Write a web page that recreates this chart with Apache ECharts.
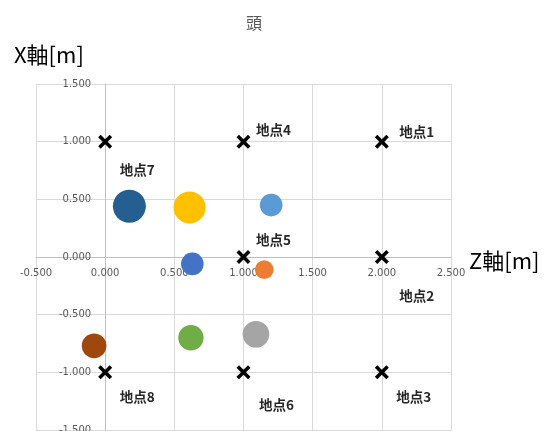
<!DOCTYPE html>
<html>
<head>
<meta charset="utf-8">
<script src="https://cdn.jsdelivr.net/npm/echarts@6/dist/echarts.min.js"></script>
<style>
  html, body { margin: 0; padding: 0; background: #fff; }
  #chart { width: 549px; height: 431px; }
</style>
</head>
<body>
<div id="chart"></div>
<script>
// Measurement stations (Z, X in metres)
const stationNames = ['地点1', '地点2', '地点3', '地点4', '地点5', '地点6', '地点7', '地点8'];
const stationZ = [2, 2, 2, 1, 1, 1, 0, 0];
const stationX = [1, 0, -1, 1, 0, -1, 1, -1];

// Bubble series (Z, X in metres, relative bubble size)
const bubbleZ = [0.175, 0.61, 1.2, 0.63, 1.15, -0.08, 0.62, 1.09];
const bubbleX = [0.44, 0.43, 0.45, -0.06, -0.11, -0.77, -0.70, -0.67];
const bubbleSize = [1.0, 0.94, 0.47, 0.47, 0.32, 0.56, 0.59, 0.65];
const bubbleColors = ['#255e91', '#ffc000', '#5b9bd5', '#4472c4', '#ed7d31', '#9e480e', '#70ad47', '#a5a5a5'];

// Axis ranges
const zTicks = { min: -0.5, max: 2.5, interval: 0.5 };
const xTicks = { min: -1.5, max: 1.5, interval: 0.5 };

// Label placement for the station names (pixel offsets from each marker)
const stationLabelOffsets = [[35, -10], [35, 39], [32, 25], [30, -12], [30, -17], [33, 33], [32, 28], [32, 25]];

const W = 549, H = 431;
const grid = { left: 36, right: 98, top: 84, bottom: 1 };
const plotW = W - grid.left - grid.right;
const plotH = H - grid.top - grid.bottom;
// Shift each axis so it crosses the other at zero
const xAxisShift = -plotH * (0 - xTicks.min) / (xTicks.max - xTicks.min);
const yAxisShift = -plotW * (0 - zTicks.min) / (zTicks.max - zTicks.min);

const crossPath = 'path://M0,18 L18,0 L50,32 L82,0 L100,18 L68,50 L100,82 L82,100 L50,68 L18,100 L0,82 L32,50 Z';
const maxBubble = Math.max(...bubbleSize);
const tickFont = { color: '#595959', fontSize: 10, fontFamily: 'DejaVu Sans' };

const chart = echarts.init(document.getElementById('chart'));
chart.setOption({
  animation: false,
  grid: Object.assign({ containLabel: false, outerBoundsMode: 'none' }, grid),
  xAxis: {
    type: 'value',
    position: 'bottom',
    offset: xAxisShift,
    min: zTicks.min, max: zTicks.max, interval: zTicks.interval,
    axisLine: { onZero: false, lineStyle: { color: '#bfbfbf', width: 1 } },
    axisTick: { show: false },
    axisLabel: Object.assign({ margin: 11, formatter: v => v.toFixed(3) }, tickFont),
    splitLine: { lineStyle: { color: '#d9d9d9', width: 1 } }
  },
  yAxis: {
    type: 'value',
    position: 'left',
    offset: yAxisShift,
    min: xTicks.min, max: xTicks.max, interval: xTicks.interval,
    axisLine: { onZero: false, lineStyle: { color: '#bfbfbf', width: 1 } },
    axisTick: { show: false },
    axisLabel: Object.assign({ margin: 14, formatter: v => v.toFixed(3) }, tickFont),
    splitLine: { lineStyle: { color: '#d9d9d9', width: 1 } }
  },
  graphic: [
    { type: 'text', style: { text: '頭', x: 254, y: 23, textAlign: 'center', textVerticalAlign: 'middle', fill: '#595959', font: '16px "Noto Sans CJK JP"' } },
    { type: 'text', style: { text: 'X軸[m]', x: 14, y: 55, textVerticalAlign: 'middle', fill: '#000', font: '22px "Noto Sans CJK JP"' } },
    { type: 'text', style: { text: 'Z軸[m]', x: 469, y: 261, textVerticalAlign: 'middle', fill: '#000', font: '22px "Noto Sans CJK JP"' } }
  ],
  series: [
    {
      type: 'scatter',
      z: 2,
      symbol: 'circle',
      data: bubbleZ.map((z, i) => ({
        value: [z, bubbleX[i]],
        symbolSize: 33 * Math.sqrt(bubbleSize[i] / maxBubble),
        itemStyle: { color: bubbleColors[i], opacity: 1 }
      }))
    },
    {
      type: 'scatter',
      z: 3,
      symbol: crossPath,
      symbolSize: 14,
      itemStyle: { color: '#000', opacity: 1 },
      data: stationZ.map((z, i) => ({
        name: stationNames[i],
        value: [z, stationX[i]],
        label: {
          show: true,
          position: 'inside',
          offset: stationLabelOffsets[i],
          formatter: '{b}',
          color: '#262626',
          fontSize: 13.5,
          fontWeight: 'bold',
          fontFamily: 'Noto Sans CJK JP'
        }
      }))
    }
  ]
});
</script>
</body>
</html>
